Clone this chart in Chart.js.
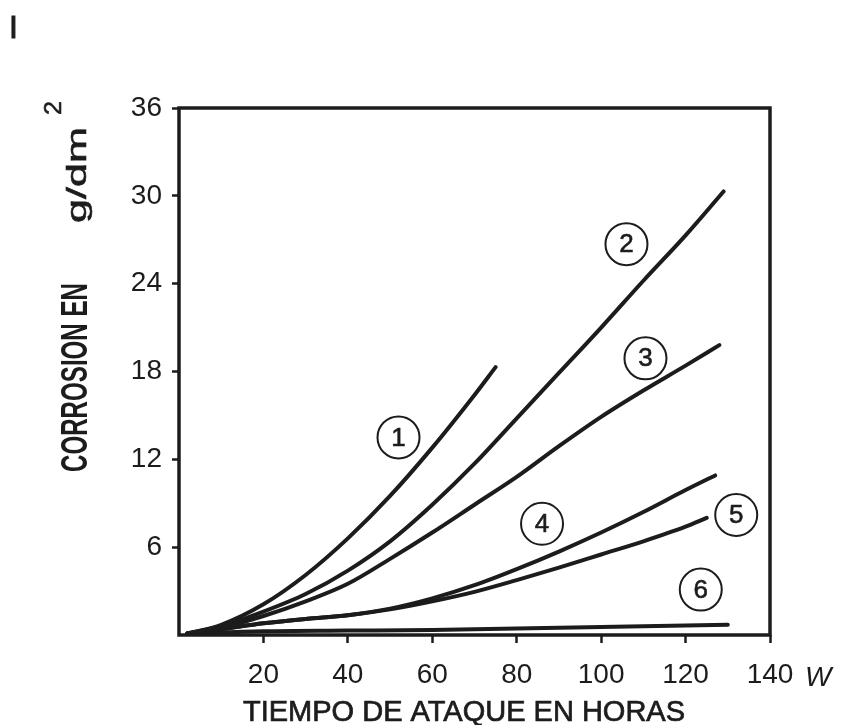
<!DOCTYPE html>
<html lang="es">
<head>
    <meta charset="UTF-8">
    <title>Corrosion vs tiempo de ataque</title>
    <script src="https://cdn.jsdelivr.net/npm/chart.js"></script>
    <style>
        body {
            margin: 0;
            padding: 0;
            background: #fff;
        }
        canvas {
            display: block;
        }
    </style>
</head>
<body>
<canvas id="corrosionChart" width="843" height="725"></canvas>
<script>
    // Curves: hours of attack vs corrosion (g/dm2)
    const hours1 = [2, 10, 20, 30, 40, 50, 60, 70, 75];
    const corrosion1 = [0.1, 0.7, 2.1, 4.1, 6.6, 9.5, 12.8, 16.4, 18.3];

    const hours2 = [2, 10, 20, 30, 40, 50, 60, 70, 80, 90, 100, 110, 120, 129];
    const corrosion2 = [0.1, 0.6, 1.6, 2.8, 4.4, 6.4, 8.9, 11.7, 14.8, 17.9, 21.0, 24.2, 27.3, 30.3];

    const hours3 = [2, 10, 20, 30, 40, 50, 60, 70, 80, 90, 100, 110, 120, 128];
    const corrosion3 = [0.1, 0.5, 1.3, 2.3, 3.5, 5.2, 7.0, 8.9, 10.8, 12.9, 14.9, 16.7, 18.4, 19.8];

    const hours4 = [2, 10, 20, 30, 40, 50, 60, 70, 80, 90, 100, 110, 120, 127];
    const corrosion4 = [0.1, 0.4, 0.8, 1.1, 1.35, 1.8, 2.5, 3.4, 4.5, 5.7, 7.0, 8.4, 9.9, 10.9];

    const hours5 = [2, 10, 20, 30, 40, 50, 60, 70, 80, 90, 100, 110, 120, 125];
    const corrosion5 = [0.1, 0.4, 0.8, 1.1, 1.35, 1.75, 2.3, 2.95, 3.75, 4.6, 5.5, 6.4, 7.4, 8.0];

    const hours6 = [2, 20, 40, 60, 80, 100, 120, 130];
    const corrosion6 = [0.1, 0.25, 0.3, 0.35, 0.45, 0.55, 0.65, 0.7];

    // circled curve numbers and where they sit (data units)
    const curveLabels = ['1', '2', '3', '4', '5', '6'];
    const labelHours = [52, 106, 110.5, 86, 132, 123.6];
    const labelCorrosion = [13.5, 26.7, 18.9, 7.6, 8.2, 3.1];

    const xTicks = [0, 20, 40, 60, 80, 100, 120, 140];
    const yTicks = [0, 6, 12, 18, 24, 30, 36];

    const INK = '#1c1c1c';
    const FONT = '"Liberation Sans", Arial, sans-serif';

    const curves = [
        [hours1, corrosion1],
        [hours2, corrosion2],
        [hours3, corrosion3],
        [hours4, corrosion4],
        [hours5, corrosion5],
        [hours6, corrosion6]
    ];

    // squeeze a text run to a given length, a thin outline makes it a bit heavier
    function fitText(ctx, text, font, x, y, len, angle, heavy) {
        ctx.save();
        ctx.font = font;
        ctx.translate(x, y);
        ctx.rotate(angle);
        const w = ctx.measureText(text).width;
        ctx.scale(len / w, 1);
        ctx.textAlign = 'left';
        ctx.textBaseline = 'alphabetic';
        ctx.fillText(text, 0, 0);
        if (heavy) {
            ctx.lineWidth = heavy;
            ctx.strokeText(text, 0, 0);
        }
        ctx.restore();
    }

    const decorations = {
        id: 'decorations',
        afterDraw(chart) {
            const { ctx, chartArea: a, scales: { x, y } } = chart;
            ctx.save();
            ctx.strokeStyle = INK;
            ctx.fillStyle = INK;

            // frame
            ctx.lineWidth = 3.5;
            ctx.strokeRect(a.left, a.top, a.right - a.left, a.bottom - a.top);

            // circled numbers
            ctx.font = '26px ' + FONT;
            ctx.textAlign = 'center';
            ctx.textBaseline = 'middle';
            curveLabels.forEach((t, i) => {
                const px = x.getPixelForValue(labelHours[i]);
                const py = y.getPixelForValue(labelCorrosion[i]);
                ctx.lineWidth = 2;
                ctx.beginPath();
                ctx.arc(px, py, 21, 0, Math.PI * 2);
                ctx.stroke();
                ctx.fillText(t, px, py + 1);
                ctx.lineWidth = 0.6;
                ctx.strokeText(t, px, py + 1);
            });

            // axis titles
            fitText(ctx, 'CORROSION EN', 'bold 36px ' + FONT, 87, 472, 189, -Math.PI / 2, 0);
            fitText(ctx, 'g/dm', '28px ' + FONT, 86, 223, 96, -Math.PI / 2, 0.6);
            fitText(ctx, '2', '24px ' + FONT, 61, 115, 14, -Math.PI / 2, 0.6);
            fitText(ctx, 'TIEMPO DE ATAQUE EN HORAS', '29px ' + FONT, 243, 721, 442, 0, 0.7);

            // unit after the last x tick, panel letter
            ctx.textAlign = 'left';
            ctx.textBaseline = 'alphabetic';
            ctx.font = 'italic 28px ' + FONT;
            ctx.fillText('W', 805, 686);
            ctx.font = '32px ' + FONT;
            ctx.lineWidth = 1;
            ctx.fillText('I', 9, 38);
            ctx.strokeText('I', 9, 38);
            ctx.restore();
        }
    };

    new Chart(document.getElementById('corrosionChart'), {
        type: 'line',
        data: {
            datasets: curves.map(([h, c]) => ({
                data: h.map((v, i) => ({ x: v, y: c[i] })),
                borderColor: INK,
                borderWidth: 4,
                borderCapStyle: 'round',
                pointRadius: 0,
                fill: false,
                cubicInterpolationMode: 'monotone'
            }))
        },
        options: {
            responsive: false,
            animation: false,
            layout: {
                padding: { left: 0, top: 108, right: 73, bottom: 0 }
            },
            plugins: {
                legend: { display: false },
                tooltip: { enabled: false }
            },
            scales: {
                x: {
                    type: 'linear',
                    min: 0,
                    max: 140,
                    afterBuildTicks: s => { s.ticks = xTicks.map(v => ({ value: v })); },
                    afterFit: s => { s.height = 90; },
                    border: { display: false },
                    grid: {
                        drawOnChartArea: false,
                        drawTicks: true,
                        tickLength: 8,
                        tickWidth: 2.5,
                        tickColor: c => (c.tick && c.tick.value === 0 ? 'rgba(0,0,0,0)' : INK)
                    },
                    ticks: {
                        color: INK,
                        padding: 15,
                        maxRotation: 0,
                        font: { family: FONT, size: 28 },
                        callback: v => (v === 0 ? '' : v)
                    }
                },
                y: {
                    type: 'linear',
                    min: 0,
                    max: 36,
                    afterBuildTicks: s => { s.ticks = yTicks.map(v => ({ value: v })); },
                    afterFit: s => { s.width = 179; },
                    border: { display: false },
                    grid: {
                        drawOnChartArea: false,
                        drawTicks: true,
                        tickLength: 7,
                        tickWidth: 2.5,
                        tickColor: c => (c.tick && c.tick.value === 0 ? 'rgba(0,0,0,0)' : INK)
                    },
                    ticks: {
                        color: INK,
                        padding: 10,
                        font: { family: FONT, size: 28 },
                        callback: v => (v === 0 ? '' : v)
                    }
                }
            }
        },
        plugins: [decorations]
    });
</script>
</body>
</html>
